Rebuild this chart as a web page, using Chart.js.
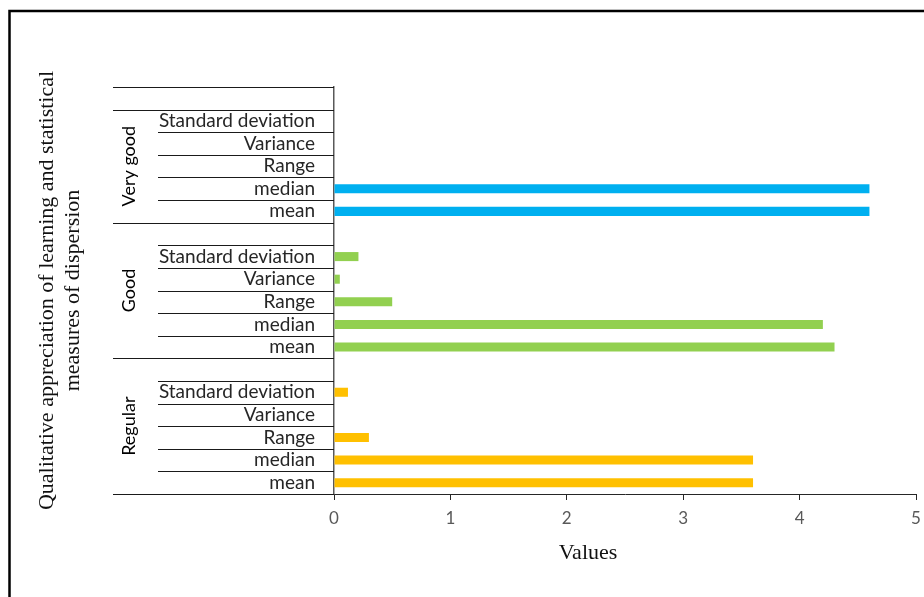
<!DOCTYPE html>
<html><head><meta charset="utf-8">
<script src="https://cdn.jsdelivr.net/npm/chart.js@4/dist/chart.umd.min.js"></script>
<style>html,body{margin:0;padding:0;background:#fff;} #wrap{width:924px;height:597px;position:relative;}</style>
</head><body><div id="wrap"><canvas id="c" width="924" height="597"></canvas></div>
<script>
const measures = ["Standard deviation", "Variance", "Range", "median", "mean"];
const groups = ["Very good", "Good", "Regular"];
const veryGoodValues = [null, null, null, 4.6, 4.6];
const goodValues = [0.21, 0.05, 0.5, 4.2, 4.3];
const regularValues = [0.12, 0, 0.3, 3.6, 3.6];
const xTicks = [0, 1, 2, 3, 4, 5];
const yTitle = ["Qualitative appreciation of learning and statistical", "measures of dispersion"];
const xTitle = "Values";
const groupColors = ["#00B0F0", "#92D050", "#FFC000"];

const groupValues = [veryGoodValues, goodValues, regularValues];
const labels = [""];
const rowGroup = [-1];
groups.forEach((g, gi) => {
  if (gi > 0) { labels.push(""); rowGroup.push(gi); }
  measures.forEach(m => { labels.push(m); rowGroup.push(gi); });
});
const datasets = groups.map((g, gi) => ({
  label: g,
  data: labels.map((l, i) => (rowGroup[i] === gi && l !== "") ? groupValues[gi][measures.indexOf(l)] : null),
  backgroundColor: groupColors[gi],
  borderWidth: 0,
  categoryPercentage: 1,
  barPercentage: 0.4
}));

const decor = {
  id: 'decor',
  beforeDraw(chart) {
    const ctx = chart.ctx;
    ctx.save();
    ctx.fillStyle = '#fff';
    ctx.fillRect(0, 0, chart.width, chart.height);
    ctx.strokeStyle = '#000';
    ctx.lineWidth = 2.5;
    ctx.beginPath();
    ctx.moveTo(9.5, chart.height + 5);
    ctx.lineTo(9.5, 11);
    ctx.lineTo(chart.width + 5, 11);
    ctx.stroke();
    ctx.restore();
  },
  afterDraw(chart) {
    const ctx = chart.ctx;
    const ys = chart.scales.y;
    const left = chart.chartArea.left;
    const n = labels.length;
    ctx.save();
    ctx.strokeStyle = '#1a1a1a';
    ctx.lineWidth = 1;
    for (let i = 0; i <= n; i++) {
      const y = Math.round(ys.getPixelForValue(i - 0.5)) + 0.5;
      const boundary = (i === 0 || i === n || rowGroup[i] !== rowGroup[i - 1]);
      const x0 = boundary ? left - 221 : left - 176;
      ctx.beginPath();
      ctx.moveTo(x0, y);
      ctx.lineTo(left, y);
      ctx.stroke();
    }
    // group labels
    ctx.fillStyle = '#000';
    ctx.font = '18px Lato';
    ctx.textAlign = 'center';
    ctx.textBaseline = 'middle';
    groups.forEach((g, gi) => {
      const idx = rowGroup.map((r, i) => r === gi ? i : -1).filter(i => i >= 0);
      const yc = (ys.getPixelForValue(idx[0] - 0.5) + ys.getPixelForValue(idx[idx.length - 1] + 0.5)) / 2;
      ctx.save();
      ctx.translate(left - 205, yc);
      ctx.rotate(-Math.PI / 2);
      ctx.fillText(g, 0, 0);
      ctx.restore();
    });
    // x title
    ctx.font = '22px "Liberation Serif"';
    ctx.fillStyle = '#111';
    ctx.fillText(xTitle, 588, 553);
    ctx.restore();
  }
};

new Chart(document.getElementById('c'), {
  type: 'bar',
  data: { labels: labels, datasets: datasets },
  plugins: [decor],
  options: {
    responsive: false,
    animation: false,
    indexAxis: 'y',
    layout: { padding: { left: 22, top: 87, right: 8, bottom: 0 } },
    plugins: { legend: { display: false }, tooltip: { enabled: false } },
    scales: {
      x: {
        type: 'linear',
        min: xTicks[0], max: xTicks[xTicks.length - 1],
        stacked: true,
        afterBuildTicks(s) { s.ticks = xTicks.map(v => ({ value: v })); },
        ticks: { color: '#595959', font: { family: 'Lato', size: 17 }, padding: 8 },
        grid: { drawOnChartArea: false, drawTicks: true, tickLength: 6, color: '#262626', lineWidth: 1 },
        border: { display: true, color: '#262626', width: 1 },
        afterFit(s) { s.height = 103; s.paddingRight = 0; s.paddingLeft = 0; }
      },
      y: {
        stacked: true,
        ticks: { color: '#262626', font: { family: 'Lato', size: 19 }, padding: 19, autoSkip: false },
        grid: { display: false, drawTicks: false },
        border: { display: true, color: '#595959', width: 1.5 },
        title: { display: true, text: yTitle, color: '#111', font: { family: 'Liberation Serif', size: 22, lineHeight: 1.18 }, padding: { top: 12, bottom: 0 } },
        afterFit(s) { s.width = 312; }
      }
    }
  }
});
</script>
</body></html>
